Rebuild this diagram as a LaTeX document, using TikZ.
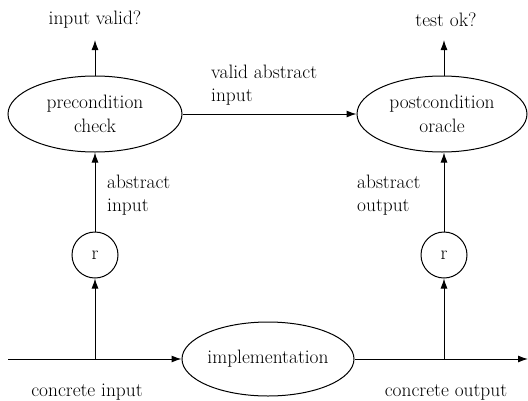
\documentclass[tikz,border=0pt]{standalone}
\usetikzlibrary{shapes.geometric,arrows.meta}
\begin{document}
\begin{tikzpicture}[x=1pt,y=-1pt,
  every node/.style={font=\fontsize{19.4}{23.5}\selectfont},
  ell/.style={draw,ellipse,inner sep=0pt,line width=1pt,align=center},
  rc/.style={draw,circle,minimum size=46pt,inner sep=0pt,line width=1pt},
  lbl/.style={align=left,inner sep=0pt},
  arr/.style={line width=1pt,-{Latex[length=10pt,width=7pt]}},
  ln/.style={line width=1pt}]
\useasboundingbox (0,0) rectangle (528,400);
\node[ell,minimum width=174pt,minimum height=76pt] (pre) at (95,114) {precondition\\check};
\node[ell,minimum width=170pt,minimum height=76pt] (post) at (442,114) {postcondition\\oracle};
\node[ell,minimum width=172pt,minimum height=74pt] (impl) at (268,359) {implementation};
\node[rc] (r1) at (95,255) {r};
\node[rc] (r2) at (444,255) {r};
\coordinate (in) at (8,359);
\coordinate (j1) at (95,359);
\coordinate (j2) at (444,359);
\coordinate (out) at (528,359);
\coordinate (t1) at (95,40);
\coordinate (t2) at (444,40);
\node[inner sep=0pt] (iv) at (95,20) {input valid?};
\node[inner sep=0pt] (tok) at (446,20) {test ok?};
\node[inner sep=0pt] (ci) at (87,392) {concrete input};
\node[inner sep=0pt] (co) at (446,392) {concrete output};
\node[lbl,anchor=west] (vai) at (211,85) {valid abstract\\input};
\node[lbl,anchor=west] (ai) at (107,195) {abstract\\input};
\node[lbl,anchor=west] (ao) at (357,195) {abstract\\output};
\draw[arr] (pre.north) -- (t1);
\draw[arr] (post.north -| t2) -- (t2);
\draw[arr] (pre.east) -- (post.west);
\draw[arr] (r1) -- (pre.south);
\draw[arr] (r2) -- (post.south -| r2);
\draw[arr] (j1) -- (r1);
\draw[arr] (j2) -- (r2);
\draw[arr] (in) -- (impl.west);
\draw[arr] (impl.east) -- (out);
\end{tikzpicture}
\end{document}
